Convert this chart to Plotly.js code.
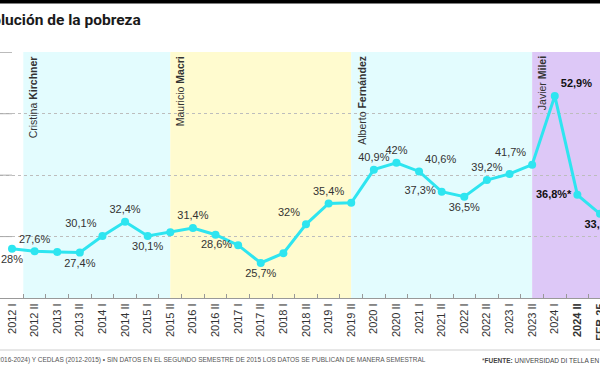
<!DOCTYPE html>
<html>
<head>
<meta charset="utf-8">
<script src="https://cdn.plot.ly/plotly-3.0.1.min.js"></script>
<style>
html,body{margin:0;padding:0;background:#fff;overflow:hidden}
#chart{width:600px;height:365px}
</style>
</head>
<body>
<div id="chart"></div>
<script>
// ---- DATA ----
const categories = ['2012 I','2012 II','2013 I','2013 II','2014 I','2014 II','2015 I','2015 II',
  '2016 I','2016 II','2017 I','2017 II','2018 I','2018 II','2019 I','2019 II',
  '2020 I','2020 II','2021 I','2021 II','2022 I','2022 II','2023 I','2023 II',
  '2024 I','2024 II','FEB 25'];
const values = [28, 27.6, 27.5, 27.4, 30.1, 32.4, 30.1, 30.7,
  31.4, 30.3, 28.6, 25.7, 27.3, 32, 35.4, 35.5,
  40.9, 42, 40.6, 37.3, 36.5, 39.2, 40.2, 41.7,
  52.9, 36.8, 33.7];
const labels = ['28%','27,6%','','27,4%','30,1%','32,4%','30,1%','',
  '31,4%','','28,6%','25,7%','','32%','35,4%','',
  '40,9%','42%','40,6%','37,3%','36,5%','39,2%','','41,7%',
  '52,9%','36,8%*','33,7%'];
const boldLabelCats = ['2024 I','2024 II','FEB 25'];
const boldTickCats = ['2024 II','FEB 25'];
const presidents = [
  {first:'Cristina', last:'Kirchner', start:'2012 II', end:'2015 II'},
  {first:'Mauricio', last:'Macri', start:'2015 II', end:'2019 II'},
  {first:'Alberto', last:'Fernández', start:'2019 II', end:'2023 II'},
  {first:'Javier', last:'Milei', start:'2023 II', end:'FEB 25'}
];
const gridValues = [30, 40, 50, 60];
const titleText = 'Evolución de la pobreza';
const footLeft = 'FUENTE: INDEC (2016-2024) Y CEDLAS (2012-2015) • SIN DATOS EN EL SEGUNDO SEMESTRE DE 2015 LOS DATOS SE PUBLICAN DE MANERA SEMESTRAL';
const footRight = '*<b>FUENTE:</b> UNIVERSIDAD DI TELLA EN BASE A INDEC';

// ---- STYLE / LAYOUT ----
const W = 600, H = 365, TOP = 52, BOTTOM = 298;
const py = y => (BOTTOM - y) / (BOTTOM - TOP);
const px = x => x / W;
const FONT = 'Liberation Sans, Arial, sans-serif';
const cyan = '#2ee5f0';
const bandColors = ['#e3fcfe', '#fffbcf', '#e3fcfe', '#ddc8f7'];
const bandStartOffset = [-0.5, 0, 0, 0];
const bandEndExtra = [0, 0, 0, 2];
const labelPos = ['bottom center','top center','top center','bottom center','top left','top center','bottom center','top center',
  'top center','top center','middle left','bottom center','top center','top left','top center','top center',
  'top center','top center','top right','middle left','bottom center','top center','top center','top left',
  'top right','middle left','bottom center'];

const idx = c => categories.indexOf(c);

const texts = labels.map((l, i) => l && boldLabelCats.includes(categories[i]) ? '<b>' + l + '</b>' : l);
const textColors = categories.map(c => boldLabelCats.includes(c) ? '#111' : '#333');

const trace = {
  type: 'scatter',
  mode: 'lines+markers+text',
  x: categories,
  y: values,
  text: texts,
  textposition: labelPos,
  textfont: {family: FONT, size: 11, color: textColors},
  line: {color: cyan, width: 3},
  marker: {color: cyan, size: 8},
  cliponaxis: false,
  hoverinfo: 'skip'
};

const shapes = [];
presidents.forEach((p, i) => {
  shapes.push({
    type: 'rect', xref: 'x', yref: 'paper',
    x0: idx(p.start) + bandStartOffset[i], x1: idx(p.end) + bandEndExtra[i],
    y0: 0, y1: 1, fillcolor: bandColors[i], line: {width: 0}, layer: 'below'
  });
});
// top black bar
shapes.push({type:'rect', xref:'paper', yref:'paper', x0:0, x1:1, y0:py(3.5), y1:py(-2),
  fillcolor:'#000', line:{width:0}});
// left solid stubs of the gridlines
gridValues.forEach(v => shapes.push({type:'line', xref:'paper', yref:'y', x0:0, x1:px(12), y0:v, y1:v,
  line:{color:'#aaa', width:1}}));
// footer rule
shapes.push({type:'line', xref:'paper', yref:'paper', x0:0, x1:1, y0:py(350), y1:py(350),
  line:{color:'#cfcfcf', width:1}});

const annotations = [];
annotations.push({
  xref:'paper', yref:'paper', x:px(143), y:py(20), xanchor:'right', yanchor:'middle',
  text:'<b>' + titleText + '</b>', showarrow:false,
  font:{family:'Roboto, ' + FONT, size:15.5, color:'#1a1a1a'}
});
presidents.forEach((p, i) => {
  annotations.push({
    xref:'x', yref:'paper', x: idx(p.start) + bandStartOffset[i], y:1,
    xanchor:'left', yanchor:'top', xshift:2, yshift:-2,
    textangle:-90, showarrow:false,
    text: p.first + ' <b>' + p.last + '</b>',
    font:{family:FONT, size:10.5, color:'#333'}
  });
});
annotations.push({
  xref:'paper', yref:'paper', x:px(428), y:py(360), xanchor:'right', yanchor:'middle',
  text: footLeft, showarrow:false, font:{family:FONT, size:6.5, color:'#555'}
});
annotations.push({
  xref:'paper', yref:'paper', x:px(480), y:py(360), xanchor:'left', yanchor:'middle',
  text: footRight, showarrow:false, font:{family:FONT, size:6.5, color:'#444'}
});

const layout = {
  width: W, height: H,
  margin: {l:0, r:0, t:TOP, b:H - BOTTOM, pad:0},
  paper_bgcolor:'#fff', plot_bgcolor:'rgba(0,0,0,0)',
  showlegend:false,
  xaxis: {
    type:'category', categoryorder:'array', categoryarray:categories,
    range:[-0.53, 26],
    tickmode:'array', tickvals:categories,
    ticktext: categories.map(c => boldTickCats.includes(c) ? '<b>' + c + '</b>' : c),
    tickangle:-90, tickfont:{family:FONT, size:11, color:'#333'},
    ticks:'inside', ticklen:4, tickcolor:'#999', tickson:'boundaries',
    showline:true, linecolor:'#999', linewidth:1,
    showgrid:false, zeroline:false, automargin:false, fixedrange:true
  },
  yaxis: {
    range:[20, 60.05], tickmode:'array', tickvals:gridValues,
    showticklabels:false, ticks:'',
    showgrid:true, gridcolor:'#bdbdbd', gridwidth:1, griddash:'3px,3px',
    zeroline:false, showline:false, automargin:false, fixedrange:true
  },
  shapes: shapes,
  annotations: annotations
};

Plotly.newPlot('chart', [trace], layout, {displayModeBar:false, staticPlot:true});
</script>
</body>
</html>
